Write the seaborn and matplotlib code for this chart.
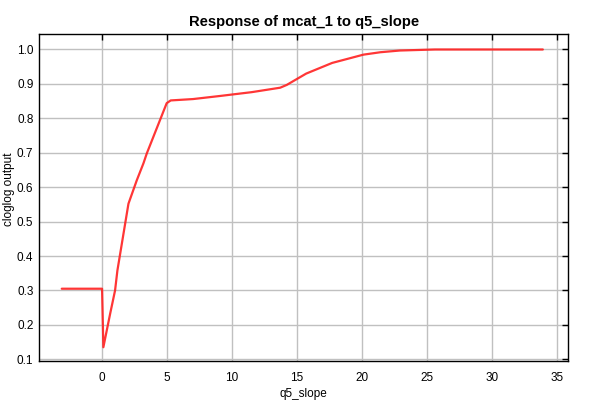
import matplotlib
matplotlib.use("Agg")
import matplotlib.pyplot as plt
import numpy as np
import pandas as pd
import seaborn as sns

# response curve
q5_slope = [-3.1, 0.0, 0.1, 0.62, 1.0, 1.18, 2.03, 2.67, 3.18, 3.44, 4.97, 5.28,
            7.0, 9.08, 11.5, 13.7, 14.2, 15.7, 17.7, 20.1, 21.4, 22.9, 25.6, 33.9]
cloglog = [0.305, 0.305, 0.135, 0.232, 0.30, 0.358, 0.552, 0.62, 0.669, 0.698, 0.844, 0.852,
           0.856, 0.865, 0.876, 0.889, 0.897, 0.930, 0.961, 0.985, 0.992, 0.997, 1.0, 1.0]

x_ticks = [0, 5, 10, 15, 20, 25, 30, 35]
y_ticks = [0.1, 0.2, 0.3, 0.4, 0.5, 0.6, 0.7, 0.8, 0.9, 1.0]

df = pd.DataFrame({"q5_slope": q5_slope, "cloglog output": cloglog})

sns.set_style("white")
plt.rcParams["font.family"] = ["Liberation Sans", "DejaVu Sans"]
plt.rcParams["text.color"] = "black"
plt.rcParams["axes.labelcolor"] = "black"

rect = [0.065, 0.0975, 0.882, 0.8175]
xlim = (-4.85, 35.85)
ylim = (0.095, 1.045)

fig = plt.figure(figsize=(6, 4), dpi=100)
ax = fig.add_axes(rect)

sns.lineplot(data=df, x="q5_slope", y="cloglog output", ax=ax,
             color="#ff2020", linewidth=1.6, alpha=0.9)

ax.set_xlim(*xlim)
ax.set_ylim(*ylim)
ax.set_xticks(x_ticks)
ax.set_yticks(y_ticks)
ax.set_yticklabels([f"{v:.1f}" for v in y_ticks])
ax.grid(True, color="#c0c0c0", linewidth=1.0)
ax.set_axisbelow(True)

ax.tick_params(axis="x", labelsize=8.5, length=3, color="black", width=1,
               labelcolor="black", pad=8, direction="in")
ax.tick_params(axis="y", labelsize=8.5, length=2, color="black", width=1,
               labelcolor="black", pad=2, direction="out")
for spine in ax.spines.values():
    spine.set_color("black")
    spine.set_linewidth(1.0)

# overlay for the inward ticks on top and right
ax2 = fig.add_axes(rect, frameon=False)
ax2.set_xlim(*xlim)
ax2.set_ylim(*ylim)
ax2.set_xticks(x_ticks)
ax2.set_yticks(y_ticks)
ax2.tick_params(direction="in", length=4, width=1, color="black",
                top=True, right=True, bottom=False, left=False,
                labeltop=False, labelright=False, labelbottom=False, labelleft=False)
ax2.patch.set_visible(False)

ax.set_xlabel("q5_slope", fontsize=8.5)
ax.xaxis.set_label_coords(0.5, -0.082)
ax.set_ylabel("cloglog output", fontsize=8.5)
ax.yaxis.set_label_coords(-0.046, 0.525)
ax.set_title("Response of mcat_1 to q5_slope", fontsize=10.6, fontweight="bold", pad=6)

fig.savefig("out.png", dpi=100)
plt.close(fig)
